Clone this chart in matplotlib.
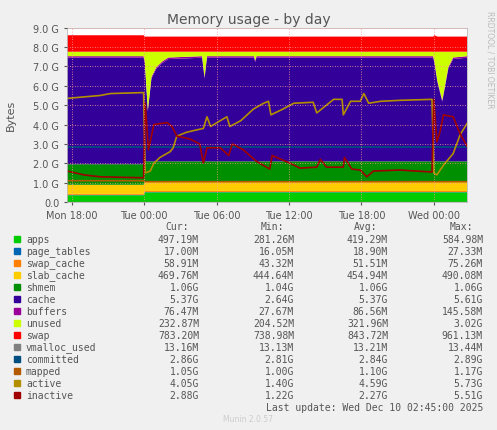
import matplotlib
matplotlib.use("Agg")
import matplotlib.pyplot as plt
import numpy as np

# stacked data (GB)
t = [-0.4,5.95,6.05,6.3,6.6,7,7.5,8,10.8,11.0,11.2,15.1,15.2,15.3,29.95,30.05,30.3,30.7,31.2,31.6,32.75]
apps =        [.35,.35,.5,.5,.5,.5,.5,.5,.5,.5,.5,.5,.5,.5,.5,.5,.5,.5,.5,.5,.5]
page_tables = [.02]*21
swap_cache =  [.05]*21
slab_cache =  [.47]*21
shmem =       [1.06]*21
cache =   [5.5,5.5,5.08,2.58,4.28,4.78,5.08,5.28,5.35,4.28,5.35,5.35,5.13,5.35,5.35,5.08,4.08,3.08,4.78,5.28,5.35]
buffers = [.08]*21
unused =  [.23,.23,.5,3.0,1.3,.8,.5,.3,.23,1.3,.23,.23,.45,.23,.23,.5,1.5,2.5,.8,.3,.23]
swap =    [.85,.85,.78,.78,.78,.78,.78,.78,.78,.78,.78,.78,.78,.78,.78,.85,.78,.78,.78,.78,.78]

lt = [-0.4, 32.75]
vmalloc = [0.013, 0.013]
committed = [2.85, 2.85]
mapped_t = [-0.4, 5.95, 6.05, 32.75]
mapped = [1.1, 1.1, 1.05, 1.05]

act_t = [-0.4,2.35,3.2,5.95,6.08,6.5,6.8,7.3,8.15,8.4,8.7,9.5,10.9,11.2,11.5,12.3,12.85,13.1,14,15.05,15.9,16.3,16.5,17.5,18.4,20,20.3,20.9,21.7,22.4,22.5,23.1,23.9,24.2,24.6,25.6,27.2,29.85,30,30.25,30.8,31.6,32.2,32.75]
active = [5.35,5.5,5.6,5.65,1.5,1.6,2.0,2.3,2.6,2.8,3.4,3.6,3.8,4.4,3.9,4.2,4.4,3.9,4.2,4.8,5.1,5.2,4.5,4.8,5.1,5.15,4.6,4.9,5.3,5.3,4.5,5.2,5.2,5.6,5.1,5.2,5.25,5.3,1.5,1.4,1.9,2.5,3.5,4.05]
ina_t = [-0.4,1.0,2.35,5.95,6.08,6.35,6.8,7.9,8.3,8.7,9.8,10.6,10.9,11.2,12.3,13.0,13.3,14.2,15.3,16.4,16.6,18.1,18.9,20.3,20.6,21.1,22.5,22.6,23.2,23.9,24.45,25,27.2,29.85,30,30.25,30.5,30.8,31.6,32.2,32.75]
inactive = [1.6,1.4,1.3,1.25,5.1,2.7,4.0,4.1,3.9,3.4,3.25,3.0,2.0,2.8,2.8,2.4,3.0,2.7,2.1,1.7,2.4,2.0,1.75,1.8,2.2,1.8,1.8,2.3,1.7,1.65,1.3,1.6,1.65,1.55,5.3,3.1,3.6,4.5,4.4,3.5,2.88]

names = ["apps","page_tables","swap_cache","slab_cache","shmem","cache","buffers","unused","swap","vmalloc_used","committed","mapped","active","inactive"]
colors = ["#00CC00","#0066B3","#FF8000","#FFCC00","#008F00","#330099","#990099","#CCFF00","#FF0000","#808080","#004D80","#B35A00","#B38F00","#A00000"]
cur = ["497.19M","17.00M","58.91M","469.76M","1.06G","5.37G","76.47M","232.87M","783.20M","13.16M","2.86G","1.05G","4.05G","2.88G"]
mn = ["281.26M","16.05M","43.32M","444.64M","1.04G","2.64G","27.67M","204.52M","738.98M","13.13M","2.81G","1.00G","1.40G","1.22G"]
avg = ["419.29M","18.90M","51.51M","454.94M","1.06G","5.37G","86.56M","321.96M","843.72M","13.21M","2.84G","1.10G","4.59G","2.27G"]
mx = ["584.98M","27.33M","75.26M","490.08M","1.06G","5.61G","145.58M","3.02G","961.13M","13.44M","2.89G","1.17G","5.73G","5.51G"]
xticks = [0,6,12,18,24,30]
xlabels = ["Mon 18:00","Tue 00:00","Tue 06:00","Tue 12:00","Tue 18:00","Wed 00:00"]

fig = plt.figure(figsize=(4.97,4.31), dpi=100, facecolor="#F0F0F0")
ax = fig.add_axes([67/497, 1-203/431, 400/497, 174.3/431])
ax.set_facecolor("white")
ax.stackplot(t, apps, page_tables, swap_cache, slab_cache, shmem, cache, buffers, unused, swap,
             colors=colors[:9], linewidth=0)
ax.plot(lt, vmalloc, color=colors[9], lw=1)
ax.plot(lt, committed, color=colors[10], lw=1.2)
ax.plot(mapped_t, mapped, color=colors[11], lw=1.2)
ax.plot(act_t, active, color=colors[12], lw=1.2)
ax.plot(ina_t, inactive, color=colors[13], lw=1.2)
ax.set_xlim(-0.4, 32.75)
ax.set_ylim(0, 9)
ax.set_yticks(np.arange(0, 10))
ax.set_yticklabels(["0.0"] + [f"{v:.1f} G" for v in range(1, 10)])
ax.set_xticks(xticks)
ax.set_xticklabels(xlabels)
ax.tick_params(labelsize=7, colors="#555555", length=2)
ax.grid(True, color="#FF9999", linestyle=(0,(1,2)), linewidth=0.6)
ax.set_axisbelow(False)
for s in ax.spines.values():
    s.set_color("#BBBBBB"); s.set_linewidth(0.6)
fig.text(11/497, 1-115/431, "Bytes", rotation=90, ha="center", va="center", fontsize=8, color="#555555")
fig.text(0.5, 1-20/431, "Memory usage - by day", ha="center", va="center", fontsize=10, color="#555555")
fig.text(490/497, 1-60/431, "RRDTOOL / TOBI OETIKER", rotation=270, ha="center", va="center", fontsize=5.5, color="#BBBBBB")

mono = "DejaVu Sans Mono"
def ty(y): return 1 - y/431
for x, h in [(199,"Cur:"),(294,"Min:"),(388,"Avg:"),(483,"Max:")]:
    fig.text((x-22)/497, ty(227), h, ha="center", va="center", fontsize=7, family=mono, color="#555555")
for i, n in enumerate(names):
    y = 240 + 12*i
    fig.patches.append(matplotlib.patches.Rectangle((14/497, ty(y+3)), 6/497, 6/431, transform=fig.transFigure, color=colors[i]))
    fig.text(26/497, ty(y), n, ha="left", va="center", fontsize=7, family=mono, color="#555555")
    for x, v in [(199,cur[i]),(294,mn[i]),(388,avg[i]),(483,mx[i])]:
        fig.text(x/497, ty(y), v, ha="right", va="center", fontsize=7, family=mono, color="#555555")
fig.text(483/497, ty(408), "Last update: Wed Dec 10 02:45:00 2025", ha="right", va="center", fontsize=7, family=mono, color="#555555")
fig.text(248/497, ty(420), "Munin 2.0.57", ha="center", va="center", fontsize=5.5, color="#CCCCCC")
fig.savefig("out.png", dpi=100, facecolor=fig.get_facecolor())
